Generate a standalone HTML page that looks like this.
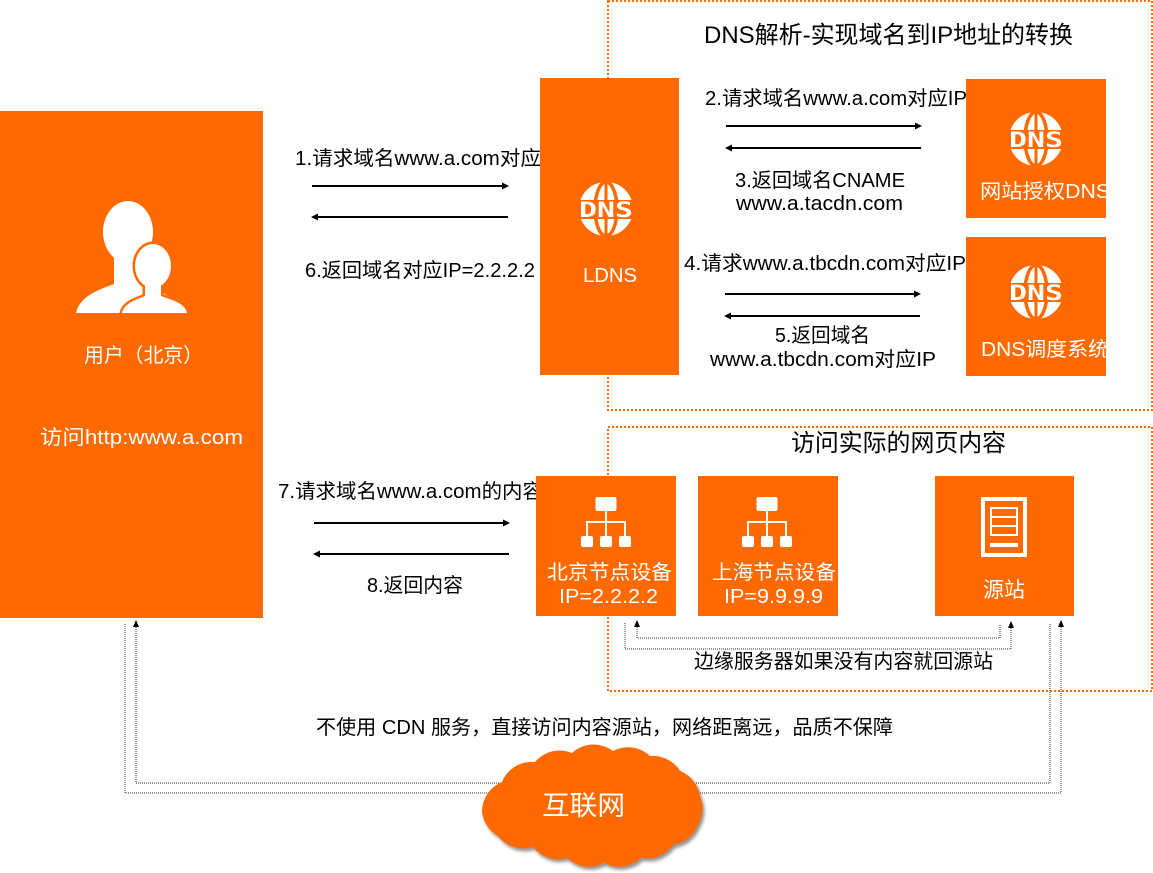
<!DOCTYPE html>
<html><head><meta charset="utf-8">
<style>
html,body{margin:0;padding:0;background:#fff;}
svg{display:block;}
text{font-family:"Liberation Sans","Noto Sans CJK SC",sans-serif;}
</style></head>
<body>
<svg width="1153" height="873" viewBox="0 0 1153 873" xmlns="http://www.w3.org/2000/svg">
<defs>
<filter id="sh" x="-10%" y="-10%" width="130%" height="130%">
<feDropShadow dx="2" dy="3" stdDeviation="1.5" flood-color="#666" flood-opacity="0.7"/>
</filter>
</defs>

<!-- dashed group boxes -->
<rect x="608" y="1" width="544" height="409" fill="none" stroke="#FF6A00" stroke-width="2" stroke-dasharray="2 2"/>
<rect x="608" y="427" width="544" height="264" fill="none" stroke="#FF6A00" stroke-width="2" stroke-dasharray="2 2"/>

<!-- titles -->
<text x="704" y="43" font-size="24" fill="#000" textLength="369" lengthAdjust="spacingAndGlyphs">DNS解析-实现域名到IP地址的转换</text>
<text x="791" y="451" font-size="24" fill="#000" textLength="215" lengthAdjust="spacingAndGlyphs">访问实际的网页内容</text>

<!-- labels -->
<g font-size="20" fill="#000">
<text x="295" y="165" textLength="246" lengthAdjust="spacingAndGlyphs">1.请求域名www.a.com对应</text>
<text x="305" y="277" textLength="230" lengthAdjust="spacingAndGlyphs">6.返回域名对应IP=2.2.2.2</text>
<text x="705" y="105" textLength="262" lengthAdjust="spacingAndGlyphs">2.请求域名www.a.com对应IP</text>
<text x="735" y="187" textLength="170" lengthAdjust="spacingAndGlyphs">3.返回域名CNAME</text>
<text x="736" y="210" textLength="167" lengthAdjust="spacingAndGlyphs">www.a.tacdn.com</text>
<text x="684" y="270" textLength="282" lengthAdjust="spacingAndGlyphs">4.请求www.a.tbcdn.com对应IP</text>
<text x="775" y="342" textLength="95" lengthAdjust="spacingAndGlyphs">5.返回域名</text>
<text x="710" y="366" textLength="226" lengthAdjust="spacingAndGlyphs">www.a.tbcdn.com对应IP</text>
<text x="278" y="498" textLength="265" lengthAdjust="spacingAndGlyphs">7.请求域名www.a.com的内容</text>
<text x="367" y="592" textLength="96" lengthAdjust="spacingAndGlyphs">8.返回内容</text>
<text x="694" y="668" textLength="299" lengthAdjust="spacingAndGlyphs">边缘服务器如果没有内容就回源站</text>
<text x="316" y="734" textLength="577" lengthAdjust="spacingAndGlyphs">不使用 CDN 服务，直接访问内容源站，网络距离远，品质不保障</text>
</g>

<!-- solid arrows -->
<g stroke="#000" stroke-width="2">
<line x1="312" y1="186" x2="503" y2="186"/>
<line x1="317" y1="217" x2="508" y2="217"/>
<line x1="726" y1="126" x2="916" y2="126"/>
<line x1="731" y1="148" x2="921" y2="148"/>
<line x1="725" y1="294" x2="915" y2="294"/>
<line x1="730" y1="316" x2="920" y2="316"/>
<line x1="314" y1="523" x2="504" y2="523"/>
<line x1="319" y1="554" x2="509" y2="554"/>
</g>
<g fill="#000">
<polygon points="509,186 502,182.5 502,189.5"/>
<polygon points="311,217 318,213.5 318,220.5"/>
<polygon points="922,126 915,122.5 915,129.5"/>
<polygon points="725,148 732,144.5 732,151.5"/>
<polygon points="921,294 914,290.5 914,297.5"/>
<polygon points="724,316 731,312.5 731,319.5"/>
<polygon points="510,523 503,519.5 503,526.5"/>
<polygon points="313,554 320,550.5 320,557.5"/>
</g>

<!-- dotted connectors -->
<g fill="none" stroke="#333" stroke-width="1" stroke-dasharray="1 1">
<path d="M1000,625 L1000,638 L637,638 L637,627"/>
<path d="M625,623 L625,649 L1011,649 L1011,628"/>
<path d="M1050,624 L1050,783 L136,783 L136,627"/>
<path d="M125,624 L125,793 L1061,793 L1061,627"/>
</g>
<g fill="#000">
<polygon points="637,620 634,627 640,627"/>
<polygon points="1011,621 1008,628 1014,628"/>
<polygon points="136,620 133,627 139,627"/>
<polygon points="1061,620 1058,627 1064,627"/>
</g>

<!-- user box -->
<rect x="0" y="111" width="263" height="507" fill="#FF6A00"/>
<g fill="#fff">
<ellipse cx="128" cy="232" rx="25" ry="31"/>
<path d="M114,255 L142,255 L142,284 C158,290 176,296 180,313 L76,313 C80,296 98,290 114,284 Z"/>
</g>
<g fill="#FF6A00" stroke="#FF6A00" stroke-width="5">
<path d="M145,280 L161,280 L161,296 C172,300 185,303 187,313 L122,313 C124,303 136,300 145,296 Z"/>
<ellipse cx="153" cy="266" rx="18" ry="22"/>
</g>
<g fill="#fff">
<path d="M145,280 L161,280 L161,296 C172,300 185,303 187,313 L122,313 C124,303 136,300 145,296 Z"/>
<ellipse cx="153" cy="266" rx="18" ry="22"/>
</g>
<rect x="60" y="313" width="140" height="6" fill="#FF6A00"/>
<text x="84" y="362" font-size="20" fill="#fff" textLength="119" lengthAdjust="spacingAndGlyphs">用户（北京）</text>
<text x="40" y="444" font-size="20" fill="#fff" textLength="203" lengthAdjust="spacingAndGlyphs">访问http:www.a.com</text>

<!-- LDNS -->
<rect x="540" y="78" width="139" height="297" fill="#FF6A00"/>
<g transform="translate(606,209)">
<circle r="27" fill="#fff"/>
<ellipse rx="11" ry="27" fill="none" stroke="#FF6A00" stroke-width="3.5"/>
<line x1="0" y1="-28" x2="0" y2="28" stroke="#FF6A00" stroke-width="3"/>
<rect x="-29" y="-9" width="58" height="19" fill="#FF6A00"/>
<text x="-27" y="8" font-size="21" font-weight="bold" fill="#fff" textLength="54" lengthAdjust="spacingAndGlyphs" style="font-family:'DejaVu Sans Mono',monospace">DNS</text>
</g>
<text x="583" y="282" font-size="20" fill="#fff" textLength="54" lengthAdjust="spacingAndGlyphs">LDNS</text>

<!-- 网站授权DNS -->
<rect x="966" y="79" width="140" height="139" fill="#FF6A00"/>
<g transform="translate(1036,139)">
<circle r="27" fill="#fff"/>
<ellipse rx="11" ry="27" fill="none" stroke="#FF6A00" stroke-width="3.5"/>
<line x1="0" y1="-28" x2="0" y2="28" stroke="#FF6A00" stroke-width="3"/>
<rect x="-29" y="-9" width="58" height="19" fill="#FF6A00"/>
<text x="-27" y="8" font-size="21" font-weight="bold" fill="#fff" textLength="54" lengthAdjust="spacingAndGlyphs" style="font-family:'DejaVu Sans Mono',monospace">DNS</text>
</g>
<text x="980" y="198" font-size="20" fill="#fff" textLength="130" lengthAdjust="spacingAndGlyphs">网站授权DNS</text>

<!-- DNS调度系统 -->
<rect x="966" y="237" width="140" height="139" fill="#FF6A00"/>
<g transform="translate(1036,292)">
<circle r="27" fill="#fff"/>
<ellipse rx="11" ry="27" fill="none" stroke="#FF6A00" stroke-width="3.5"/>
<line x1="0" y1="-28" x2="0" y2="28" stroke="#FF6A00" stroke-width="3"/>
<rect x="-29" y="-9" width="58" height="19" fill="#FF6A00"/>
<text x="-27" y="8" font-size="21" font-weight="bold" fill="#fff" textLength="54" lengthAdjust="spacingAndGlyphs" style="font-family:'DejaVu Sans Mono',monospace">DNS</text>
</g>
<text x="981" y="356" font-size="20" fill="#fff" textLength="128" lengthAdjust="spacingAndGlyphs">DNS调度系统</text>

<!-- 北京节点设备 -->
<rect x="536" y="476" width="140" height="140" fill="#FF6A00"/>
<g transform="translate(606,0)" fill="#fff" stroke="none">
<rect x="-10.5" y="497" width="21" height="14" rx="2"/>
<rect x="-1" y="511" width="2" height="25"/>
<rect x="-20" y="521" width="40" height="2"/>
<rect x="-20" y="521" width="2" height="16"/>
<rect x="18" y="521" width="2" height="16"/>
<rect x="-25" y="536" width="12" height="11" rx="2"/>
<rect x="-6" y="536" width="12" height="11" rx="2"/>
<rect x="13" y="536" width="12" height="11" rx="2"/>
</g>
<text x="547" y="579" font-size="20" fill="#fff" textLength="125" lengthAdjust="spacingAndGlyphs">北京节点设备</text>
<text x="559" y="603" font-size="20" fill="#fff" textLength="99" lengthAdjust="spacingAndGlyphs">IP=2.2.2.2</text>

<!-- 上海节点设备 -->
<rect x="698" y="476" width="140" height="140" fill="#FF6A00"/>
<g transform="translate(767,0)" fill="#fff" stroke="none">
<rect x="-10.5" y="497" width="21" height="14" rx="2"/>
<rect x="-1" y="511" width="2" height="25"/>
<rect x="-20" y="521" width="40" height="2"/>
<rect x="-20" y="521" width="2" height="16"/>
<rect x="18" y="521" width="2" height="16"/>
<rect x="-25" y="536" width="12" height="11" rx="2"/>
<rect x="-6" y="536" width="12" height="11" rx="2"/>
<rect x="13" y="536" width="12" height="11" rx="2"/>
</g>
<text x="712" y="579" font-size="20" fill="#fff" textLength="124" lengthAdjust="spacingAndGlyphs">上海节点设备</text>
<text x="724" y="603" font-size="20" fill="#fff" textLength="99" lengthAdjust="spacingAndGlyphs">IP=9.9.9.9</text>

<!-- 源站 -->
<rect x="935" y="476" width="139" height="140" fill="#FF6A00"/>
<rect x="981" y="497" width="46" height="60" fill="#fff"/>
<rect x="985" y="501" width="38" height="52" fill="#FF6A00"/>
<rect x="991" y="508" width="26" height="27" fill="none" stroke="#fff" stroke-width="2"/>
<line x1="991" y1="517" x2="1017" y2="517" stroke="#fff" stroke-width="2"/>
<line x1="991" y1="526" x2="1017" y2="526" stroke="#fff" stroke-width="2"/>
<rect x="990" y="543" width="28" height="4" fill="#fff"/>
<text x="983" y="597" font-size="21" fill="#fff" textLength="42" lengthAdjust="spacingAndGlyphs">源站</text>

<!-- cloud -->
<path filter="url(#sh)" fill="#FF6A00" d="M482,812
A32,32 0 0 1 502,782
A32,32 0 0 1 535,762
A32,32 0 0 1 572,753
A32,32 0 0 1 613,751
A32,32 0 0 1 650,756
A32,32 0 0 1 680,771
A32,32 0 0 1 700,796
A32,32 0 0 1 698,825
A32,32 0 0 1 673,845
A32,32 0 0 1 641,858
A32,32 0 0 1 604,863
A32,32 0 0 1 567,858
A32,32 0 0 1 533,847
A32,32 0 0 1 498,836
A32,32 0 0 1 482,812 Z"/>
<text x="542" y="815" font-size="27" fill="#fff" textLength="83" lengthAdjust="spacingAndGlyphs">互联网</text>
</svg>
</body></html>
